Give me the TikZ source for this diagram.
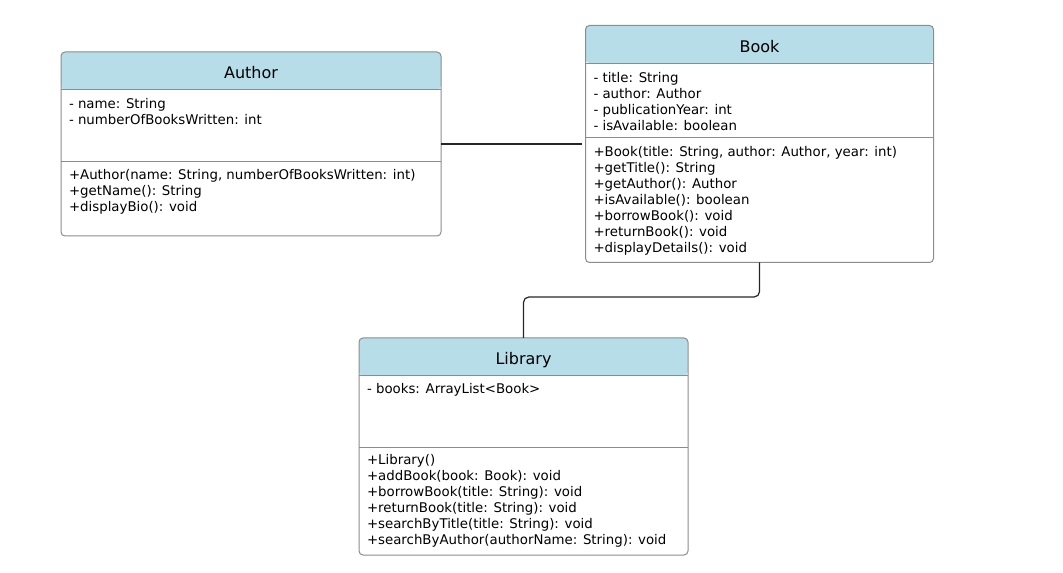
\documentclass[tikz,border=0pt]{standalone}
\usepackage{fontspec}
\setmainfont{DejaVu Sans}
\usetikzlibrary{positioning}
\definecolor{headblue}{HTML}{B7DDE8}
\definecolor{boxgray}{HTML}{8C8C8C}

\begin{document}
\begin{tikzpicture}[x=0.75pt,y=-0.75pt,line width=0.75pt,
    every node/.style={inner sep=0pt,outer sep=0pt},
    classbox/.style={draw=boxgray,fill=white,rounded corners=3pt,anchor=north west,
      path picture={
        \fill[headblue] (path picture bounding box.north west) rectangle ([yshift=-28.2pt]path picture bounding box.north east);
        \draw[boxgray] ([yshift=-28.2pt]path picture bounding box.north west) -- ([yshift=-28.2pt]path picture bounding box.north east);
        \draw[boxgray] ([yshift=-#1]path picture bounding box.north west) -- ([yshift=-#1]path picture bounding box.north east);
      }},
    classname/.style={anchor=base,font=\fontsize{12}{14}\selectfont},
    members/.style={anchor=base west,align=left,font=\fontsize{10}{12}\selectfont},
    assoc/.style={draw=black!85,line width=0.9pt}]
  \useasboundingbox (0,0) rectangle (1063,573);

  \node[classbox=82.3pt,minimum width=285pt,minimum height=138pt] (author) at (61,52) {};
  \node[classname] (authorName) at ([yshift=-20.2pt]author.north) {Author};
  \node[members] (authorAttr) at ([xshift=6pt,yshift=-54.7pt]author.north west)
    {- name: String\\- numberOfBooksWritten: int};
  \node[members] (authorOps) at ([xshift=6pt,yshift=-120pt]author.north west)
    {+Author(name: String, numberOfBooksWritten: int)\\+getName(): String\\+displayBio(): void};

  \node[classbox=84.3pt,minimum width=261pt,minimum height=177.75pt] (book) at (585.5,25.5) {};
  \node[classname] (bookName) at ([yshift=-20.2pt]book.north) {Book};
  \node[members] (bookAttr) at ([xshift=6pt,yshift=-79pt]book.north west)
    {- title: String\\- author: Author\\- publicationYear: int\\- isAvailable: boolean};
  \node[members] (bookOps) at ([xshift=6pt,yshift=-170.5pt]book.north west)
    {+Book(title: String, author: Author, year: int)\\+getTitle(): String\\+getAuthor(): Author\\
     +isAvailable(): boolean\\+borrowBook(): void\\+returnBook(): void\\+displayDetails(): void};

  \node[classbox=81.8pt,minimum width=246.75pt,minimum height=162.75pt] (library) at (359,338) {};
  \node[classname] (libraryName) at ([yshift=-20.2pt]library.north) {Library};
  \node[members] (libraryAttr) at ([xshift=6pt,yshift=-41.8pt]library.north west)
    {- books: ArrayList<Book>};
  \node[members] (libraryOps) at ([xshift=6pt,yshift=-154.7pt]library.north west)
    {+Library()\\+addBook(book: Book): void\\+borrowBook(title: String): void\\+returnBook(title: String): void\\
     +searchByTitle(title: String): void\\+searchByAuthor(authorName: String): void};

  \coordinate (bend) at (library.north |- 0,297);
  \draw[assoc,shorten >=2.5pt] (author) -- (book);
  \draw[assoc] (book.south) [rounded corners=4pt] |- (bend) [sharp corners] -- (library.north);
\end{tikzpicture}
\end{document}
